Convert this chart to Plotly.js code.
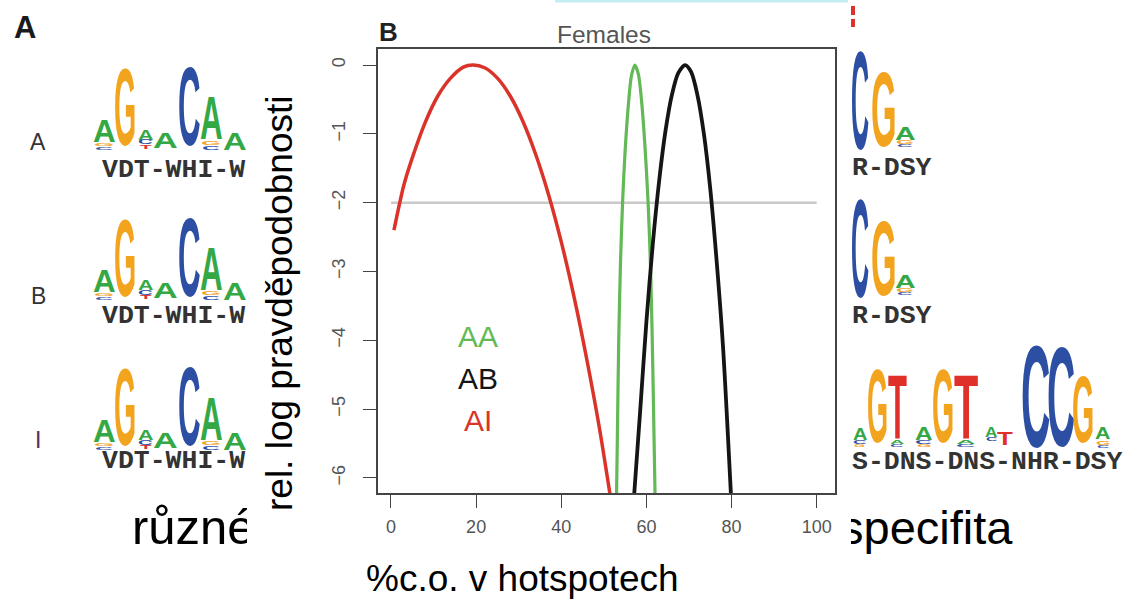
<!DOCTYPE html>
<html><head><meta charset="utf-8">
<script src="https://cdn.plot.ly/plotly-3.0.1.min.js"></script>
<style>html,body{margin:0;padding:0;background:#fff}#chart{width:1126px;height:599px}</style>
</head><body><div id="chart"></div>
<script>
const W = 1126, H = 599;

// ---- chart data ----
const xAI = [0.7, 3, 5, 8, 11, 14, 17, 19.3, 22, 25, 28, 31, 34, 37, 40, 43, 46, 49, 51.6];
const yAI = [-2.40, -1.75, -1.35, -0.84, -0.45, -0.19, -0.03, 0, -0.04, -0.19, -0.45, -0.82, -1.30, -1.88, -2.57, -3.37, -4.28, -5.29, -6.3];
const xAA = [52.95, 53.2, 53.5, 53.9, 54.4, 55.0, 55.8, 56.5, 57.3, 58.1, 58.8, 59.6, 60.4, 61.0, 61.5, 61.9, 62.1];
const yAA = [-6.4, -5.3, -4.0, -2.9, -2.0, -1.25, -0.55, -0.15, 0, -0.13, -0.48, -1.12, -2.0, -3.0, -4.4, -5.8, -6.5];
const xAB = [57.0, 58.5, 60, 61.5, 63, 64.5, 66, 67.5, 69.1, 70.5, 72, 73.5, 75, 76.5, 78, 79.9];
const yAB = [-6.35, -5.06, -3.73, -2.6, -1.68, -0.95, -0.43, -0.115, 0, -0.10, -0.44, -1.0, -1.8, -2.85, -4.1, -6.3];
const xRef = [0, 100];
const yRef = [-2, -2];
const xTicks = [0, 20, 40, 60, 80, 100];
const yTicks = [0, -1, -2, -3, -4, -5, -6];
const seriesNames = ['AA', 'AB', 'AI'];
const seriesColors = ['#62b955', '#151515', '#d9332a'];

// ---- background slide decoration (sequence logos) ----
const GR = '#35a846', OR = '#f2a41e', BL = '#2c4ea3', RD = '#e0302a';
const leftLogo = [
  ['A', GR, 93, 115, 120, 143], ['G', OR, 95, 113, 143, 146], ['C', BL, 96, 112, 146, 149],
  ['G', OR, 115, 135, 68, 147],
  ['A', GR, 138, 153, 129, 140], ['C', BL, 139, 152, 140, 145], ['T', RD, 140, 151, 145, 149],
  ['A', GR, 153, 177, 132, 148],
  ['C', BL, 180, 200, 67, 147],
  ['A', GR, 200, 222, 97, 141], ['G', OR, 202, 220, 141, 145], ['C', BL, 203, 219, 145, 149],
  ['A', GR, 223, 246, 133, 150]
];
const leftRowsDy = [0, 150, 300];
const rightRowA = [
  ['C', BL, 852, 868, 50, 150], ['G', OR, 872, 895, 72, 148],
  ['A', GR, 895, 915, 127, 140], ['G', OR, 897, 913, 140, 144], ['C', BL, 898, 912, 144, 147]
];
const rightRowsDy = [0, 148];
const rightRowI = [
  ['A', GR, 853, 867, 428, 440], ['C', BL, 854, 866, 440, 444], ['G', OR, 855, 865, 444, 447],
  ['G', OR, 868, 887, 368, 443],
  ['T', RD, 888, 906, 375, 440], ['A', GR, 890, 904, 440, 444], ['C', BL, 891, 903, 444, 447],
  ['A', GR, 915, 932, 427, 440], ['C', BL, 916, 931, 440, 444], ['G', OR, 917, 930, 444, 447],
  ['G', OR, 933, 953, 368, 443],
  ['T', RD, 954, 977, 375, 440], ['A', GR, 956, 975, 440, 444], ['C', BL, 957, 974, 444, 447],
  ['A', GR, 985, 997, 427, 437], ['C', BL, 986, 996, 437, 441],
  ['T', RD, 997, 1012, 432, 445],
  ['C', BL, 1022, 1048, 345, 448], ['C', BL, 1048, 1073, 347, 448],
  ['G', OR, 1073, 1093, 375, 443],
  ['A', GR, 1095, 1110, 428, 440], ['G', OR, 1096, 1109, 440, 444], ['C', BL, 1097, 1108, 444, 447]
];
const leftCodes = ['VDT-WHI-W', 'VDT-WHI-W', 'VDT-WHI-W'];
const leftCodeY = [170, 316, 461];
const rightCodes = ['R-DSY', 'R-DSY', 'S-DNS-DNS-NHR-DSY'];
const rightCodeY = [168, 316, 462];
const rowLabels = ['A', 'B', 'I'];
const rowLabelY = [142, 296, 440];
const rowLabelColors = ['#333', '#333', '#5a2a5a'];

const inkW = {A: 0.70, G: 0.70, C: 0.64, T: 0.58};
const px = v => v / W, py = v => 1 - v / H;

const annotations = [];
const stretch = [];
function addAnn(a, k) { annotations.push(Object.assign({showarrow: false, xref: 'paper', yref: 'paper'}, a)); stretch.push(k || 0); }
function addLetter(L, dy) {
  const [c, col, x0, x1, t, b] = L;
  const s = (x1 - x0) / inkW[c];
  const k = (b - t) / (0.716 * s);
  addAnn({x: px((x0 + x1) / 2), y: py((t + b) / 2 + dy), text: c, xanchor: 'center', yanchor: 'middle',
    font: {family: 'Liberation Sans', size: s, color: col, weight: 'bold'}}, k);
}
leftRowsDy.forEach(dy => leftLogo.forEach(L => addLetter(L, dy)));
rightRowsDy.forEach(dy => rightRowA.forEach(L => addLetter(L, dy)));
rightRowI.forEach(L => addLetter(L, 0));
leftCodes.forEach((t, i) => addAnn({x: px(100), y: py(leftCodeY[i]), text: t, xanchor: 'left', yanchor: 'middle',
  font: {family: 'Liberation Mono', size: 26.5, color: '#333', weight: 'bold'}}));
rightCodes.forEach((t, i) => addAnn({x: px(850), y: py(rightCodeY[i]), text: t, xanchor: 'left', yanchor: 'middle',
  font: {family: 'Liberation Mono', size: 26.5, color: '#333', weight: 'bold'}}));
rowLabels.forEach((t, i) => addAnn({x: px(38), y: py(rowLabelY[i]), text: t, xanchor: 'center', yanchor: 'middle',
  font: {family: 'Liberation Sans', size: 23, color: rowLabelColors[i]}}));
addAnn({x: px(25), y: py(27), text: 'A', xanchor: 'center', yanchor: 'middle',
  font: {family: 'Liberation Sans', size: 31, color: '#1a1a1a', weight: 'bold'}});

// ---- chart panel texts ----
addAnn({x: px(388), y: py(32), text: 'B', xanchor: 'center', yanchor: 'middle',
  font: {family: 'Liberation Sans', size: 26, color: '#222', weight: 'bold'}});
addAnn({x: px(604), y: py(35), text: 'Females', xanchor: 'center', yanchor: 'middle',
  font: {family: 'Liberation Sans', size: 24.5, color: '#555'}});
const legendX = [20.4, 20.4, 20.4], legendY = [-3.94, -4.55, -5.17];
seriesNames.forEach((n, i) => addAnn({xref: 'x', yref: 'y', x: legendX[i], y: legendY[i], text: n,
  xanchor: 'center', yanchor: 'middle', font: {family: 'Liberation Sans', size: 30, color: seriesColors[i]}}));
addAnn({x: px(279), y: py(303), text: 'rel. log pravděpodobnosti', textangle: -90, xanchor: 'center', yanchor: 'middle',
  font: {family: 'Liberation Sans', size: 37, color: '#000'}});
addAnn({x: px(522), y: py(578), text: '%c.o. v hotspotech', xanchor: 'center', yanchor: 'middle',
  font: {family: 'Liberation Sans', size: 37, color: '#000'}});

const lineTrace = (x, y, color, width, name) => ({type: 'scatter', mode: 'lines', x, y, name,
  line: {color, width, shape: 'spline', smoothing: 0.8}, xaxis: 'x', yaxis: 'y', hoverinfo: 'skip', showlegend: false});

const data = [
  {type: 'scatter', mode: 'lines', x: xRef, y: yRef, line: {color: '#cacaca', width: 2.5}, hoverinfo: 'skip', showlegend: false},
  lineTrace(xAI, yAI, seriesColors[2], 3.5, 'AI'),
  lineTrace(xAA, yAA, seriesColors[0], 3.2, 'AA'),
  lineTrace(xAB, yAB, seriesColors[1], 3.8, 'AB'),
  {type: 'scatter', mode: 'text', x: [132], y: [532], text: ['různé'], textposition: 'middle right',
   textfont: {family: 'Liberation Sans', size: 49, color: '#000'}, xaxis: 'x2', yaxis: 'y2', cliponaxis: true, hoverinfo: 'skip', showlegend: false},
  {type: 'scatter', mode: 'text', x: [840], y: [532], text: ['specifita'], textposition: 'middle right',
   textfont: {family: 'Liberation Sans', size: 47, color: '#000'}, xaxis: 'x3', yaxis: 'y3', cliponaxis: true, hoverinfo: 'skip', showlegend: false}
];

const axBase = {showgrid: false, zeroline: false, showline: true, mirror: true, linecolor: '#444', linewidth: 1.5,
  ticks: 'outside', ticklen: 13, tickwidth: 1.4, tickcolor: '#444',
  tickfont: {family: 'Liberation Sans', size: 18, color: '#555'}, fixedrange: true};
const hidden = {visible: false, fixedrange: true, showgrid: false, zeroline: false};

const layout = {
  width: W, height: H, margin: {l: 0, r: 0, t: 0, b: 0},
  paper_bgcolor: '#fff', plot_bgcolor: 'rgba(0,0,0,0)', showlegend: false,
  xaxis: Object.assign({}, axBase, {domain: [378 / W, 835 / W], range: [-3.05, 104.3], tickvals: xTicks, anchor: 'y', ticklabelstandoff: 4}),
  yaxis: Object.assign({}, axBase, {domain: [(H - 493) / H, (H - 49) / H], range: [-6.22, 0.233], tickvals: yTicks, tickangle: -90, anchor: 'x', ticklabelstandoff: 11}),
  xaxis2: Object.assign({}, hidden, {domain: [0, 247 / W], range: [0, 247], anchor: 'y2'}),
  yaxis2: Object.assign({}, hidden, {domain: [0, 1], range: [H, 0], anchor: 'x2'}),
  xaxis3: Object.assign({}, hidden, {domain: [851 / W, 1], range: [851, W], anchor: 'y3'}),
  yaxis3: Object.assign({}, hidden, {domain: [0, 1], range: [H, 0], anchor: 'x3'}),
  shapes: [
    {type: 'line', xref: 'paper', yref: 'paper', x0: px(555), x1: px(848), y0: py(1), y1: py(1), line: {color: '#c6ecf3', width: 3}},
    {type: 'rect', xref: 'paper', yref: 'paper', x0: px(851), x1: px(855), y0: py(6), y1: py(15), fillcolor: RD, line: {width: 0}},
    {type: 'rect', xref: 'paper', yref: 'paper', x0: px(851), x1: px(855), y0: py(19), y1: py(27), fillcolor: RD, line: {width: 0}}
  ],
  annotations
};

const gd = document.getElementById('chart');
Plotly.newPlot(gd, data, layout, {displayModeBar: false, responsive: false}).then(() => {
  gd.querySelectorAll('g.annotation').forEach(g => {
    const i = +g.getAttribute('data-index');
    const k = stretch[i];
    if (k) {
      const t = g.querySelector('text');
      if (t) {
        t.style.transformBox = 'fill-box';
        t.style.transformOrigin = '50% 50%';
        t.style.transform = 'scaleY(' + k.toFixed(3) + ')';
      }
    }
  });
});
</script>
</body></html>
